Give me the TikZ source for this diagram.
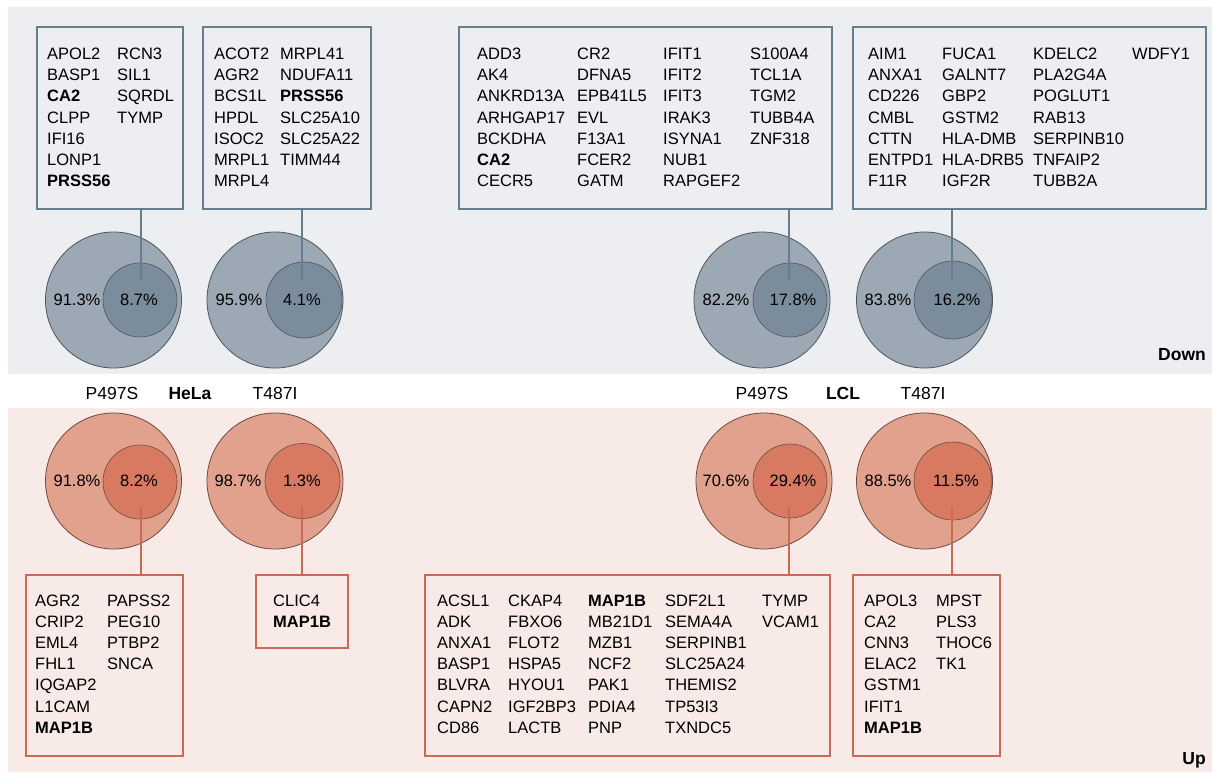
\documentclass[tikz,border=0pt]{standalone}
\usepackage{fontspec}
\setmainfont{Liberation Sans}
\definecolor{topbg}{HTML}{ECEEF1}
\definecolor{botbg}{HTML}{F8EAE6}
\definecolor{gline}{HTML}{657E8E}
\definecolor{gout}{HTML}{9CA9B5}
\definecolor{gin}{HTML}{7B8D9C}
\definecolor{gedge}{HTML}{4F565D}
\definecolor{oline}{HTML}{C86A54}
\definecolor{oout}{HTML}{E2A18D}
\definecolor{oin}{HTML}{D87A62}
\definecolor{oedge}{HTML}{6E4A40}
\newcommand{\genefont}{\fontsize{16.5}{21.2}\selectfont}
\newcommand{\pctfont}{\fontsize{16.5}{20}\selectfont}
\newcommand{\labfont}{\fontsize{17.5}{20}\selectfont}
\tikzset{
  genecol/.style={anchor=north west, inner sep=0pt, align=left, font=\genefont},
  gbox/.style={draw=gline, line width=2.6pt},
  obox/.style={draw=oline, line width=2.6pt},
  gconn/.style={draw=gline, line width=2.6pt},
  oconn/.style={draw=oline, line width=2.6pt},
  gouter/.style={circle, inner sep=0pt, minimum size=136pt, fill=gout, draw=gedge, line width=0.8pt},
  ginner/.style={circle, inner sep=0pt, fill=gin, draw=gedge, line width=0.6pt},
  oouter/.style={circle, inner sep=0pt, minimum size=136pt, fill=oout, draw=oedge, line width=0.8pt},
  oinner/.style={circle, inner sep=0pt, fill=oin, draw=oedge, line width=0.6pt},
  pct/.style={inner sep=0pt, font=\pctfont},
  lab/.style={inner sep=0pt, anchor=base, font=\labfont},
  panellab/.style={inner sep=0pt, anchor=base east, font=\labfont\bfseries},
}
\begin{document}
\begin{tikzpicture}[x=1pt,y=-1pt]
\useasboundingbox (0,0) rectangle (1214,772);
\fill[white] (0,0) rectangle (1214,772);
% panels
\fill[topbg] (8,7) rectangle (1212,374);
\fill[botbg] (8,408) rectangle (1212,772);

% ===== Down (top) circles =====
\node[gouter] (o1) at (113.5,300) {};
\node[ginner, minimum size=74pt] (i1) at (140,300) {};
\node[gouter] (o2) at (275,300) {};
\node[ginner, minimum size=76pt] (i2) at (304,300) {};
\node[gouter] (o3) at (762,300) {};
\node[ginner, minimum size=74pt] (i3) at (790,300) {};
\node[gouter] (o4) at (924.5,300) {};
\node[ginner, minimum size=78pt] (i4) at (953,300) {};

\node[pct] (p1a) at (77,300) {91.3\%};
\node[pct] (p1b) at (139,300) {8.7\%};
\node[pct] (p2a) at (239,300) {95.9\%};
\node[pct] (p2b) at (302,300) {4.1\%};
\node[pct] (p3a) at (726,300) {82.2\%};
\node[pct] (p3b) at (793,300) {17.8\%};
\node[pct] (p4a) at (888,300) {83.8\%};
\node[pct] (p4b) at (957,300) {16.2\%};

% ===== Down boxes =====
\node[gbox, inner sep=0pt, minimum width=146pt, minimum height=182pt] (b1) at (110,118) {};
\node[gbox, inner sep=0pt, minimum width=168pt, minimum height=182pt] (b2) at (287,118) {};
\node[gbox, inner sep=0pt, minimum width=373pt, minimum height=182pt] (b3) at (645.5,118) {};
\node[gbox, inner sep=0pt, minimum width=353pt, minimum height=182pt] (b4) at (1029.5,118) {};

\coordinate (e1) at (141,280);
\coordinate (e2) at (302,280);
\coordinate (e3) at (789,280);
\coordinate (e4) at (952,280);
\draw[gconn] (b1.south -| e1) -- (e1);
\draw[gconn] (b2.south -| e2) -- (e2);
\draw[gconn] (b3.south -| e3) -- (e3);
\draw[gconn] (b4.south -| e4) -- (e4);

\node[genecol] (t1a) at (47,44.4) {\strut APOL2\\BASP1\\\textbf{CA2}\\CLPP\\IFI16\\LONP1\\\textbf{PRSS56}};
\node[genecol] (t1b) at (117,44.4) {\strut RCN3\\SIL1\\SQRDL\\TYMP};
\node[genecol] (t2a) at (214,44.4) {\strut ACOT2\\AGR2\\BCS1L\\HPDL\\ISOC2\\MRPL1\\MRPL4};
\node[genecol] (t2b) at (280,44.4) {\strut MRPL41\\NDUFA11\\\textbf{PRSS56}\\SLC25A10\\SLC25A22\\TIMM44};
\node[genecol] (t3a) at (477,44.4) {\strut ADD3\\AK4\\ANKRD13A\\ARHGAP17\\BCKDHA\\\textbf{CA2}\\CECR5};
\node[genecol] (t3b) at (577,44.4) {\strut CR2\\DFNA5\\EPB41L5\\EVL\\F13A1\\FCER2\\GATM};
\node[genecol] (t3c) at (663,44.4) {\strut IFIT1\\IFIT2\\IFIT3\\IRAK3\\ISYNA1\\NUB1\\RAPGEF2};
\node[genecol] (t3d) at (750,44.4) {\strut S100A4\\TCL1A\\TGM2\\TUBB4A\\ZNF318};
\node[genecol] (t4a) at (868,44.4) {\strut AIM1\\ANXA1\\CD226\\CMBL\\CTTN\\ENTPD1\\F11R};
\node[genecol] (t4b) at (942,44.4) {\strut FUCA1\\GALNT7\\GBP2\\GSTM2\\HLA-DMB\\HLA-DRB5\\IGF2R};
\node[genecol] (t4c) at (1033,44.4) {\strut KDELC2\\PLA2G4A\\POGLUT1\\RAB13\\SERPINB10\\TNFAIP2\\TUBB2A};
\node[genecol] (t4d) at (1132,44.4) {\strut WDFY1};

\node[panellab] (down) at (1206,360) {Down};

% ===== middle labels =====
\node[lab] (m1) at (112,399.5) {P497S};
\node[lab, font=\labfont\bfseries] (m2) at (190,399.5) {HeLa};
\node[lab] (m3) at (275,399.5) {T487I};
\node[lab] (m4) at (762,399.5) {P497S};
\node[lab, font=\labfont\bfseries] (m5) at (843,399.5) {LCL};
\node[lab] (m6) at (923,399.5) {T487I};

% ===== Up (bottom) circles =====
\node[oouter] (o5) at (113.5,481) {};
\node[oinner, minimum size=74pt] (i5) at (140,482) {};
\node[oouter] (o6) at (275,481) {};
\node[oinner, minimum size=75pt] (i6) at (302.5,481) {};
\node[oouter] (o7) at (764,481) {};
\node[oinner, minimum size=74pt] (i7) at (790,481) {};
\node[oouter] (o8) at (924.5,481) {};
\node[oinner, minimum size=78pt] (i8) at (953,481) {};

\node[pct] (p5a) at (77,481) {91.8\%};
\node[pct] (p5b) at (139,481) {8.2\%};
\node[pct] (p6a) at (238,481) {98.7\%};
\node[pct] (p6b) at (302,481) {1.3\%};
\node[pct] (p7a) at (726,481) {70.6\%};
\node[pct] (p7b) at (793,481) {29.4\%};
\node[pct] (p8a) at (888,481) {88.5\%};
\node[pct] (p8b) at (956,481) {11.5\%};

% ===== Up boxes =====
\node[obox, inner sep=0pt, minimum width=157pt, minimum height=181pt] (b5) at (104.5,665.5) {};
\node[obox, inner sep=0pt, minimum width=92pt, minimum height=73pt] (b6) at (302,611.5) {};
\node[obox, inner sep=0pt, minimum width=405pt, minimum height=181pt] (b7) at (627.5,665.5) {};
\node[obox, inner sep=0pt, minimum width=147pt, minimum height=181pt] (b8) at (926.5,665.5) {};

\coordinate (s5) at (141,507);
\coordinate (s6) at (302,507);
\coordinate (s7) at (789,507);
\coordinate (s8) at (952,507);
\draw[oconn] (s5) -- (s5 |- b5.north);
\draw[oconn] (s6) -- (s6 |- b6.north);
\draw[oconn] (s7) -- (s7 |- b7.north);
\draw[oconn] (s8) -- (s8 |- b8.north);

\node[genecol] (t5a) at (35,591.1) {\strut AGR2\\CRIP2\\EML4\\FHL1\\IQGAP2\\L1CAM\\\textbf{MAP1B}};
\node[genecol] (t5b) at (107,591.1) {\strut PAPSS2\\PEG10\\PTBP2\\SNCA};
\node[genecol] (t6a) at (273,591.1) {\strut CLIC4\\\textbf{MAP1B}};
\node[genecol] (t7a) at (437,591.1) {\strut ACSL1\\ADK\\ANXA1\\BASP1\\BLVRA\\CAPN2\\CD86};
\node[genecol] (t7b) at (508,591.1) {\strut CKAP4\\FBXO6\\FLOT2\\HSPA5\\HYOU1\\IGF2BP3\\LACTB};
\node[genecol] (t7c) at (588,591.1) {\strut \textbf{MAP1B}\\MB21D1\\MZB1\\NCF2\\PAK1\\PDIA4\\PNP};
\node[genecol] (t7d) at (665,591.1) {\strut SDF2L1\\SEMA4A\\SERPINB1\\SLC25A24\\THEMIS2\\TP53I3\\TXNDC5};
\node[genecol] (t7e) at (762,591.1) {\strut TYMP\\VCAM1};
\node[genecol] (t8a) at (864,591.1) {\strut APOL3\\CA2\\CNN3\\ELAC2\\GSTM1\\IFIT1\\\textbf{MAP1B}};
\node[genecol] (t8b) at (936,591.1) {\strut MPST\\PLS3\\THOC6\\TK1};

\node[panellab] (up) at (1206,764) {Up};
\end{tikzpicture}
\end{document}
